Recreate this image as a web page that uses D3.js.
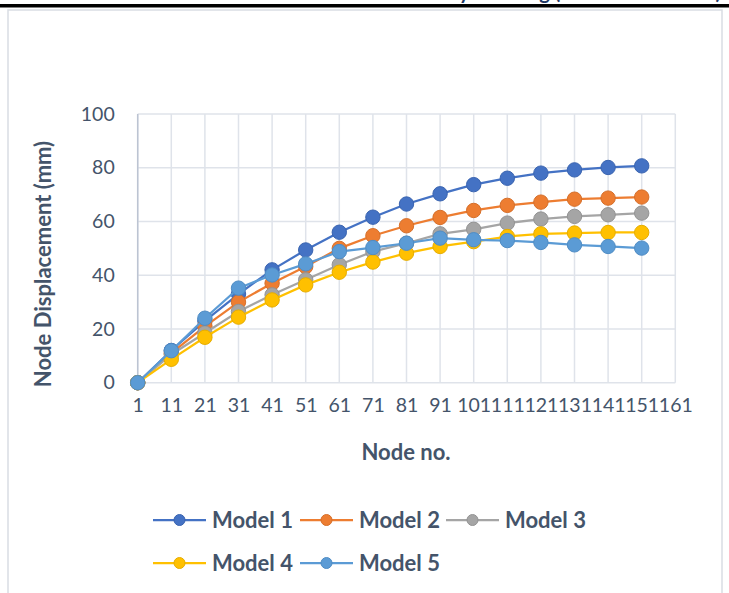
<!DOCTYPE html>
<html><head><meta charset="utf-8">
<script src="https://cdn.jsdelivr.net/npm/d3@7"></script>
<style>body{margin:0;background:#fff;}svg{display:block;}</style>
</head><body>
<script>
const categories = [1, 11, 21, 31, 41, 51, 61, 71, 81, 91, 101, 111, 121, 131, 141, 151, 161];
const nodes = [1, 11, 21, 31, 41, 51, 61, 71, 81, 91, 101, 111, 121, 131, 141, 151];
const model1 = [0, 12, 23, 33, 42, 49.4, 56, 61.6, 66.5, 70.3, 73.7, 76.1, 78, 79.2, 80.1, 80.7];
const model2 = [0, 11, 21, 30, 37, 43.2, 50, 54.7, 58.4, 61.5, 64.1, 66, 67.2, 68.3, 68.7, 69.1];
const model3 = [0, 10.5, 18.5, 26.5, 32.7, 38.3, 43.9, 48.8, 51.9, 55.4, 57.1, 59.4, 60.9, 61.9, 62.5, 63.1];
const model4 = [0, 8.7, 16.9, 24.4, 30.8, 36.4, 41.1, 44.9, 48.2, 50.7, 52.5, 54.4, 55.4, 55.7, 55.9, 55.9];
const model5 = [0, 11.9, 24, 35.2, 40.1, 44.2, 48.8, 50.3, 51.9, 53.8, 53.2, 52.9, 52.2, 51.3, 50.7, 50.1];
const seriesNames = ["Model 1", "Model 2", "Model 3", "Model 4", "Model 5"];
const yTicks = [0, 20, 40, 60, 80, 100];
const titleText = "Node Deformation by Mooring (Five Model Cases)";

const colors = ["#4472C4", "#ED7D31", "#A5A5A5", "#FFC000", "#5B9BD5"];
const strokes = ["#3A64B0", "#D56F2A", "#939393", "#E6AD00", "#4F8CC4"];
const series = [model1, model2, model3, model4, model5];
const W = 729, H = 593;
const font = "Lato, 'Open Sans', sans-serif";
const textColor = "#44546A";

const svg = d3.select("body").append("svg").attr("width", W).attr("height", H);

// chart border
svg.append("rect").attr("x", 8).attr("y", 10).attr("width", 714).attr("height", 600)
  .attr("fill", "none").attr("stroke", "#D9DDE3").attr("stroke-width", 1.5);

// title (cut off by the top edge, as in the reference) and black rule
svg.append("text").attr("x", 721).attr("y", -1).attr("text-anchor", "end")
  .attr("font-family", font).attr("font-weight", "bold").attr("font-size", 20)
  .attr("fill", "#1F3864").text(titleText);
svg.append("rect").attr("x", 0).attr("y", 4).attr("width", W).attr("height", 3.5).attr("fill", "#000");

const x = d3.scalePoint().domain(categories).range([137.7, 675.3]);
const y = d3.scaleLinear().domain([0, 100]).range([382.7, 114]);

// gridlines
const g = svg.append("g");
g.selectAll(".hg").data(yTicks).join("line")
  .attr("x1", 137.7).attr("x2", 675.3).attr("y1", d => y(d)).attr("y2", d => y(d))
  .attr("stroke", "#DFE3EA").attr("stroke-width", 1.5);
g.selectAll(".vg").data(categories).join("line")
  .attr("x1", d => x(d)).attr("x2", d => x(d)).attr("y1", y(0)).attr("y2", y(100))
  .attr("stroke", "#DFE3EA").attr("stroke-width", 1.5);
g.append("line").attr("x1", 137.7).attr("x2", 137.7).attr("y1", y(100)).attr("y2", y(0) + 5)
  .attr("stroke", "#BCC4D2").attr("stroke-width", 1.5);

// axes
const xAxis = svg.append("g").attr("transform", `translate(0,${y(0)})`)
  .call(d3.axisBottom(x).tickSize(0).tickPadding(15));
xAxis.select(".domain").remove();
xAxis.selectAll("text").attr("font-family", font).attr("font-size", 19.5).attr("fill", textColor);

const yAxis = svg.append("g").attr("transform", `translate(137.7,0)`)
  .call(d3.axisLeft(y).tickValues(yTicks).tickSize(0).tickPadding(23));
yAxis.select(".domain").remove();
yAxis.selectAll("text").attr("font-family", font).attr("font-size", 19.5).attr("fill", textColor);

// axis titles
svg.append("text").attr("x", 406).attr("y", 460).attr("text-anchor", "middle")
  .attr("font-family", font).attr("font-weight", "bold").attr("font-size", 22)
  .attr("fill", textColor).text("Node no.");
svg.append("text").attr("transform", "translate(51,264) rotate(-90)").attr("text-anchor", "middle")
  .attr("font-family", font).attr("font-weight", "bold").attr("font-size", 22)
  .attr("fill", textColor).text("Node Displacement (mm)");

// series
const line = d3.line().x((d, i) => x(nodes[i])).y(d => y(d));
series.forEach((vals, s) => {
  const sg = svg.append("g");
  sg.append("path").datum(vals).attr("d", line).attr("fill", "none")
    .attr("stroke", colors[s]).attr("stroke-width", 2.25);
  sg.selectAll("circle").data(vals).join("circle")
    .attr("cx", (d, i) => x(nodes[i])).attr("cy", d => y(d)).attr("r", 7.2)
    .attr("fill", colors[s]).attr("stroke", strokes[s]).attr("stroke-width", 1);
});

// legend
const legendPos = [[153, 520], [300, 520], [446, 520], [153, 563], [300, 563]];
seriesNames.forEach((name, s) => {
  const [lx, ly] = legendPos[s];
  const lg = svg.append("g");
  lg.append("line").attr("x1", lx).attr("x2", lx + 53).attr("y1", ly).attr("y2", ly)
    .attr("stroke", colors[s]).attr("stroke-width", 2.25);
  lg.append("circle").attr("cx", lx + 26.5).attr("cy", ly).attr("r", 5.5)
    .attr("fill", colors[s]).attr("stroke", strokes[s]).attr("stroke-width", 1);
  lg.append("text").attr("x", lx + 59).attr("y", ly + 8)
    .attr("font-family", font).attr("font-weight", "bold").attr("font-size", 22)
    .attr("fill", textColor).text(name);
});
</script>
</body></html>
